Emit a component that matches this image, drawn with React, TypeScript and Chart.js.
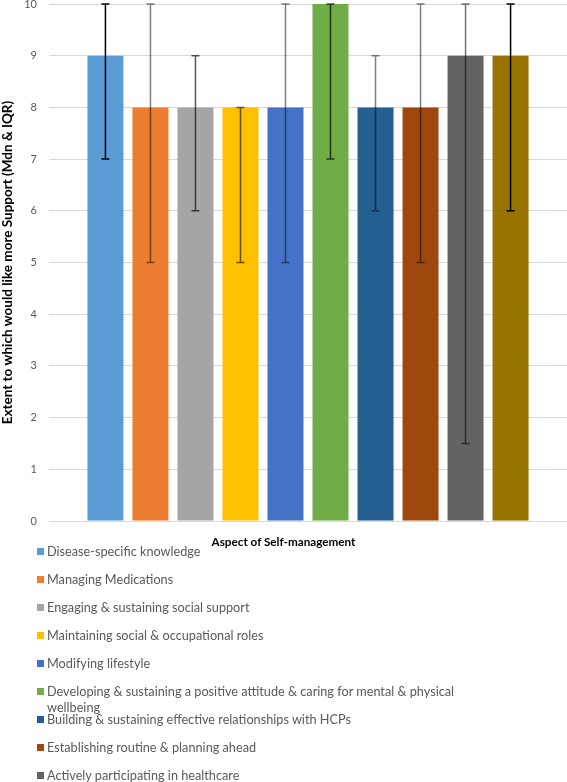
import React, { useEffect, useRef } from "react";
import { Chart, registerables } from "chart.js";

Chart.register(...registerables);

const aspects = [
  "Disease-specific knowledge",
  "Managing Medications",
  "Engaging & sustaining social support",
  "Maintaining social & occupational roles",
  "Modifying lifestyle",
  "Developing & sustaining a positive attitude & caring for mental & physical wellbeing",
  "Building & sustaining effective relationships with HCPs",
  "Establishing routine & planning ahead",
  "Actively participating in healthcare",
  "Monitoring & managing symptoms",
];
const medians = [9, 8, 8, 8, 8, 10, 8, 8, 9, 9];
const lowerQuartiles = [7, 5, 6, 5, 5, 7, 6, 5, 1.5, 6];
const upperQuartiles = [10, 10, 9, 8, 10, 10, 9, 10, 10, 10];
const yTicks = [0, 1, 2, 3, 4, 5, 6, 7, 8, 9, 10];

const barColors = [
  "#5b9bd5",
  "#ed7d31",
  "#a5a5a5",
  "#ffc000",
  "#4472c4",
  "#70ad47",
  "#255e91",
  "#9e480e",
  "#636363",
  "#997300",
];
const errColors = [
  "rgba(0,0,0,1)",
  "rgba(0,0,0,0.5)",
  "rgba(0,0,0,0.65)",
  "rgba(0,0,0,0.6)",
  "rgba(0,0,0,0.5)",
  "rgba(0,0,0,0.7)",
  "rgba(0,0,0,0.5)",
  "rgba(0,0,0,0.5)",
  "rgba(0,0,0,0.55)",
  "rgba(0,0,0,1)",
];

const FONT = "Lato, 'Open Sans', sans-serif";

const errorBarPlugin = {
  id: "errorBars",
  afterDatasetsDraw(chart: any) {
    const ctx = chart.ctx;
    const yScale = chart.scales.y;
    chart.data.datasets.forEach((ds: any, i: number) => {
      const meta = chart.getDatasetMeta(i);
      const bar = meta.data[0];
      if (!bar) return;
      const x = bar.x;
      const yl = yScale.getPixelForValue(lowerQuartiles[i]);
      const yh = yScale.getPixelForValue(upperQuartiles[i]);
      ctx.save();
      ctx.strokeStyle = errColors[i];
      ctx.lineWidth = 1.5;
      ctx.beginPath();
      ctx.moveTo(x, yl);
      ctx.lineTo(x, yh);
      ctx.moveTo(x - 4, yl);
      ctx.lineTo(x + 4, yl);
      ctx.moveTo(x - 4, yh);
      ctx.lineTo(x + 4, yh);
      ctx.stroke();
      ctx.restore();
    });
  },
};

export default function App() {
  const canvasRef = useRef<HTMLCanvasElement | null>(null);

  useEffect(() => {
    if (!canvasRef.current) return;
    const chart = new Chart(canvasRef.current, {
      type: "bar",
      data: {
        labels: ["Aspect of Self-management"],
        datasets: aspects.map((a, i) => ({
          label: a,
          data: [medians[i]],
          backgroundColor: barColors[i],
          borderWidth: 0,
          categoryPercentage: 0.869,
          barPercentage: 0.8,
        })),
      },
      options: {
        animation: false,
        responsive: false,
        maintainAspectRatio: false,
        layout: { padding: { top: 4, right: 0, bottom: 261, left: 0 } },
        plugins: {
          legend: { display: false },
          tooltip: { enabled: false },
        },
        scales: {
          x: {
            ticks: { display: false },
            grid: { display: false, drawTicks: false },
            border: { display: true, color: "#d9d9d9", width: 1 },
            afterFit: (s: any) => {
              s.height = 0;
            },
          },
          y: {
            min: 0,
            max: 10,
            afterBuildTicks: (s: any) => {
              s.ticks = yTicks.map((v) => ({ value: v }));
            },
            ticks: {
              padding: 12,
              color: "#595959",
              font: { family: FONT, size: 11 },
            },
            grid: { color: "#d9d9d9", drawTicks: false, lineWidth: 1 },
            border: { display: false },
            title: {
              display: true,
              text: "Extent to which would like more Support (Mdn & IQR)",
              color: "#000",
              font: { family: FONT, size: 13.5, weight: "bold" },
              padding: { top: 0, bottom: 0 },
            },
            afterFit: (s: any) => {
              s.width = 49;
              s.paddingTop = 0;
              s.paddingBottom = 0;
            },
          },
        },
      },
      plugins: [errorBarPlugin],
    });
    return () => chart.destroy();
  }, []);

  return (
    <div
      style={{
        position: "absolute",
        left: 0,
        top: 0,
        width: 567,
        height: 782,
        overflow: "hidden",
        background: "#fff",
        fontFamily: FONT,
      }}
    >
      <canvas ref={canvasRef} width={567} height={782} style={{ display: "block" }} />
      <div
        style={{
          position: "absolute",
          left: 0,
          width: 567,
          top: 532,
          textAlign: "center",
          fontWeight: "bold",
          fontSize: 11.7,
          lineHeight: "18px",
          color: "#000",
        }}
      >
        Aspect of Self-management
      </div>
      {aspects.map((a, i) => (
        <div
          key={i}
          style={{
            position: "absolute",
            left: 37,
            top: 551 + 28 * i - 8,
            width: 470,
            display: "flex",
            alignItems: "flex-start",
            fontSize: 12.7,
            lineHeight: "16px",
            color: "#595959",
          }}
        >
          <span
            style={{
              display: "inline-block",
              width: 7,
              height: 7,
              marginTop: 4.5,
              background: barColors[i],
              flex: "0 0 auto",
            }}
          />
          <span style={{ marginLeft: 3, width: 458 }}>{a}</span>
        </div>
      ))}
    </div>
  );
}
